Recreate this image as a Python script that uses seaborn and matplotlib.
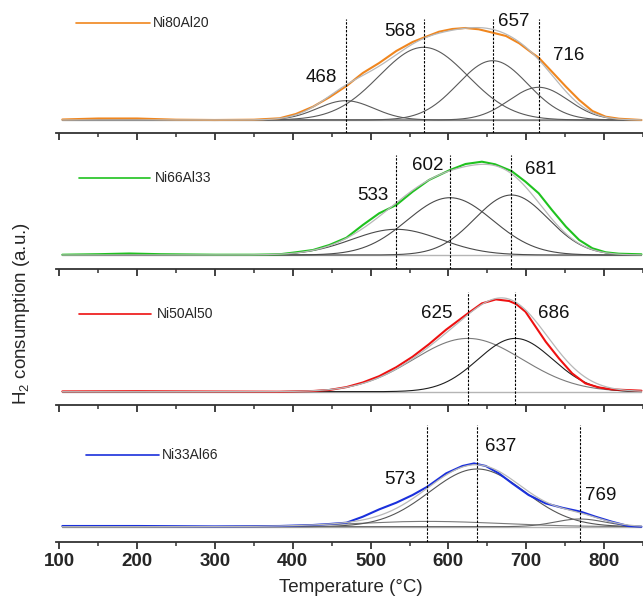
import numpy as np
import pandas as pd
import matplotlib
matplotlib.use("Agg")
import matplotlib.pyplot as plt
from matplotlib.lines import Line2D
import seaborn as sns

# ---------------- data ----------------
samples = ["Ni80Al20", "Ni66Al33", "Ni50Al50", "Ni33Al66"]

# experimental TPR traces: temperature (°C) and signal (a.u., baseline = 0)
t_ni80 = [104, 150, 200, 250, 300, 350, 383, 404, 426, 447, 469, 490, 511, 533, 554, 568,
          588, 605, 622, 639, 657, 674, 691, 708, 716, 733, 751, 768, 785, 802, 819, 848]
h_ni80 = [0.5, 1.5, 1.5, 0.3, 0.0, 0.3, 1.7, 6.0, 13.3, 22.7, 34.0, 47.0, 57.0, 69.0, 78.0, 82.3,
          88.3, 91.0, 92.0, 90.7, 87.3, 84.0, 76.7, 66.7, 62.3, 48.3, 33.3, 20.0, 9.0, 3.3, 1.3, 0.0]

t_ni66 = [104, 150, 190, 230, 300, 350, 383, 404, 426, 447, 469, 490, 511, 533, 554, 575,
          602, 622, 643, 660, 681, 699, 716, 733, 751, 768, 785, 802, 819, 848]
h_ni66 = [0.3, 0.8, 1.5, 0.8, 0.3, 0.3, 0.7, 2.7, 5.0, 10.0, 17.3, 30.0, 41.7, 50.0, 63.3, 75.0,
          85.0, 91.0, 93.3, 90.7, 84.0, 73.3, 61.7, 45.0, 28.3, 15.0, 6.7, 2.7, 1.3, 0.7]

t_ni50 = [104, 200, 300, 383, 426, 447, 469, 490, 511, 533, 554, 575, 597, 625, 643, 661,
          678, 687, 699, 712, 725, 742, 759, 776, 793, 810, 848]
h_ni50 = [0.3, 0.5, 0.2, 0.0, 0.7, 1.7, 4.6, 9.2, 15.5, 24.5, 35.0, 47.5, 62.0, 78.3, 88.3, 92.3,
          90.7, 87.7, 80.0, 65.0, 50.0, 33.3, 18.3, 8.3, 4.3, 2.3, 1.0]

t_ni33 = [104, 200, 300, 383, 426, 447, 469, 490, 511, 533, 554, 573, 597, 618, 633, 648,
          665, 682, 703, 725, 746, 770, 789, 810, 831, 848]
h_ni33 = [0.7, 0.7, 0.3, 0.7, 1.7, 2.7, 4.0, 10.0, 17.3, 24.0, 31.7, 40.0, 53.3, 60.7, 63.3, 60.7,
          53.3, 43.3, 31.7, 23.3, 19.0, 15.0, 10.0, 5.0, 0.7, 0.0]

# deconvoluted Gaussian components: centre (°C), height (a.u.), sigma (°C)
peak_c = [[468, 568, 657, 716], [533, 602, 681], [625, 686], [573, 637, 769]]
peak_h = [[19.3, 72.7, 59.3, 32.7], [25.7, 57.3, 60.0], [53.3, 53.3], [5.3, 57.7, 7.7]]
peak_s = [[36, 57, 45, 38], [57, 55, 47], [70, 48], [95, 61, 32]]

x_ticks = [100, 200, 300, 400, 500, 600, 700, 800]

# ---------------- styling / layout ----------------
exp_t = [t_ni80, t_ni66, t_ni50, t_ni33]
exp_h = [h_ni80, h_ni66, h_ni50, h_ni33]
colors = ["#f0861e", "#1fc21f", "#ee1111", "#1a30dc"]
comp_colors = [["#5a5a5a"] * 4, ["#4a4a4a"] * 3, ["#7a7a7a", "#1e1e1e"], ["#7a7a7a", "#555555", "#666666"]]

W, H = 643, 600
top_px = [19.3, 155.0, 291.7, 425.0]
axis_px = [133.3, 268.5, 405.0, 541.7]
base_px = [120.0, 255.0, 391.7, 526.7]
legend_line = [(76, 150, 23.3), (79, 150, 178.0), (79, 151, 314.0), (86, 159, 455.0)]
legend_text_x = [153, 155, 157, 162]
label_pos = [[(436.2, 42.3), (537.7, 88.3), (683.3, 98.3), (754.0, 64.3)],
             [(502.6, 59.3), (573.1, 90.0), (718.5, 86.0)],
             [(584.6, 78.4), (735.5, 78.4)],
             [(537.7, 47.7), (667.2, 80.0), (795.4, 31.7)]]

sns.set_style("white")
plt.rcParams["font.family"] = ["Liberation Sans", "DejaVu Sans"]
plt.rcParams["mathtext.default"] = "regular"

fig = plt.figure(figsize=(W / 100, H / 100), dpi=100)
xgrid = np.linspace(104, 848, 800)

for i in range(4):
    ax = fig.add_axes([56 / W, 1 - axis_px[i] / H, 587 / W, (axis_px[i] - top_px[i]) / H])
    ax.set_xlim(95.8, 848.3)
    ax.set_ylim(-(axis_px[i] - base_px[i]), base_px[i] - top_px[i])

    # baseline
    ax.plot([104, 848], [0, 0], color="#b5b5b5", lw=1.0, zorder=1)

    # fitted components and envelope
    env = np.zeros_like(xgrid)
    for c, h, s, cc in zip(peak_c[i], peak_h[i], peak_s[i], comp_colors[i]):
        g = h * np.exp(-(xgrid - c) ** 2 / (2 * s ** 2))
        env += g
        ax.plot(xgrid, g, color=cc, lw=0.8, zorder=2)

    # experimental trace
    df = pd.DataFrame({"T": exp_t[i], "signal": exp_h[i]})
    sns.lineplot(data=df, x="T", y="signal", ax=ax, color=colors[i], lw=1.5,
                 estimator=None, sort=False, zorder=3)
    ax.plot(xgrid, env, color="#b8b8b8", lw=0.9, zorder=4)

    # peak markers
    for c, (lx, ly) in zip(peak_c[i], label_pos[i]):
        ax.axvline(c, 0, 1, color="black", lw=0.8, ls=(0, (2.2, 1.3)), zorder=5)
        ax.text(lx, ly, str(c), ha="center", va="center", fontsize=13.5, color="#111111")

    # axes cosmetics
    for sp in ["top", "left", "right"]:
        ax.spines[sp].set_visible(False)
    ax.spines["bottom"].set_linewidth(1.3)
    ax.spines["bottom"].set_color("#333333")
    ax.set_yticks([])
    ax.set_xticks(x_ticks)
    ax.set_xticks([150, 250, 350, 450, 550, 650, 750, 850], minor=True)
    ax.tick_params(axis="x", which="major", direction="out", length=5, width=1.3,
                   color="#333333", bottom=True, pad=3)
    ax.tick_params(axis="x", which="minor", direction="out", length=3, width=1.1,
                   color="#333333", bottom=True)
    ax.set_xlabel("")
    ax.set_ylabel("")
    if i < 3:
        ax.set_xticklabels([])
    else:
        ax.set_xticklabels([str(t) for t in x_ticks], fontsize=13.5, fontweight="bold")

    # legend entry
    x0, x1, yy = legend_line[i]
    fig.add_artist(Line2D([x0 / W, x1 / W], [1 - yy / H, 1 - yy / H], color=colors[i], lw=1.2,
                          transform=fig.transFigure))
    fig.text(legend_text_x[i] / W, 1 - yy / H, samples[i], ha="left", va="center", fontsize=10)

fig.text(351 / W, 1 - 588 / H, "Temperature (°C)", ha="center", va="center", fontsize=13.5)
fig.text(22 / W, 1 - 314 / H, "H$_2$ consumption (a.u.)", ha="center", va="center",
         rotation=90, fontsize=13.5)

fig.savefig("out.png", dpi=100)
